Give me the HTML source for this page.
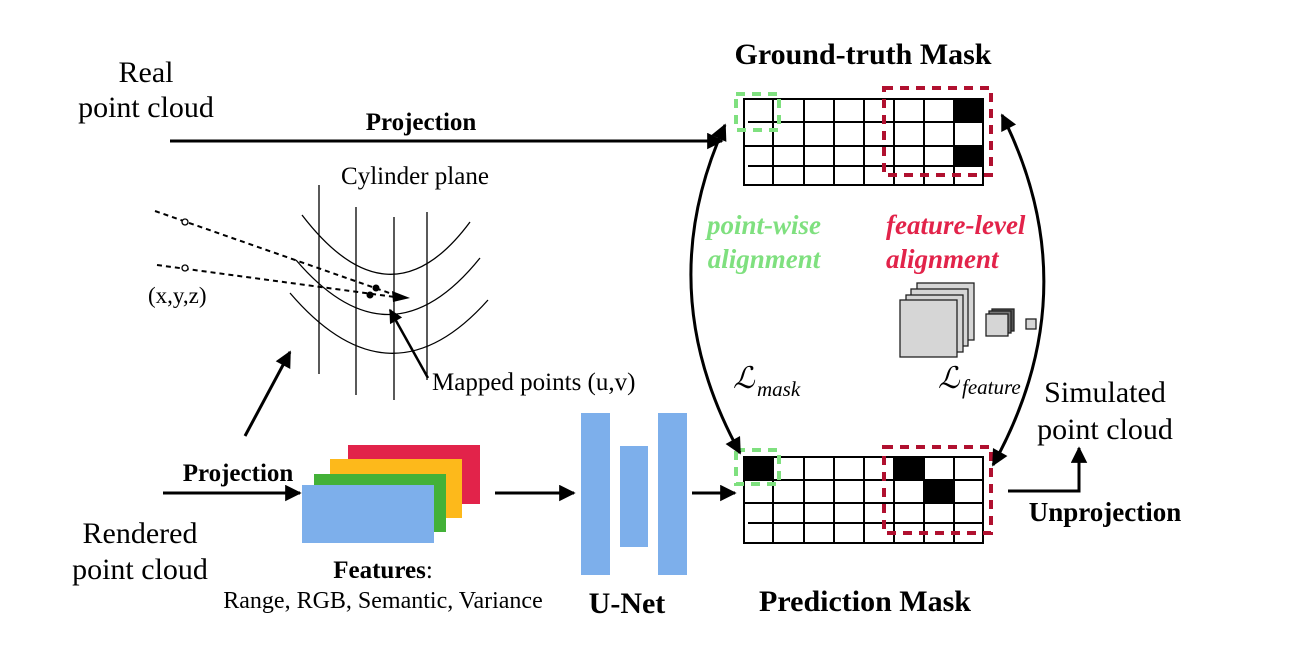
<!DOCTYPE html>
<html><head><meta charset="utf-8"><style>
html,body{margin:0;padding:0;background:#fff}
svg{display:block}
text{font-family:"Liberation Serif",serif}
</style></head><body>
<svg width="1316" height="650" viewBox="0 0 1316 650" xmlns="http://www.w3.org/2000/svg">
<defs>
<marker id="ah" viewBox="0 0 10 10" refX="9" refY="5" markerWidth="6" markerHeight="5.5" orient="auto-start-reverse" markerUnits="strokeWidth"><path d="M0,0 L10,5 L0,10 z" fill="#000"/></marker>
</defs>

<!-- left labels -->
<text x="146" y="82" font-size="30" text-anchor="middle">Real</text>
<text x="146" y="117" font-size="30" text-anchor="middle">point cloud</text>
<text x="421" y="130" font-size="25" font-weight="bold" text-anchor="middle">Projection</text>
<line x1="170" y1="141" x2="722" y2="141" stroke="#000" stroke-width="3" marker-end="url(#ah)"/>

<!-- cylinder -->
<text x="415" y="184" font-size="25" text-anchor="middle">Cylinder plane</text>
<g stroke="#000" stroke-width="1.3" fill="none">
<line x1="319" y1="185" x2="319" y2="374"/>
<line x1="356" y1="207" x2="356" y2="395"/>
<line x1="394" y1="217" x2="394" y2="400"/>
<line x1="427" y1="212" x2="427" y2="380"/>
<path d="M302,215 Q390,330 470,222"/>
<path d="M296,260 Q390,370 480,258"/>
<path d="M290,293 Q390,410 488,300"/>
</g>
<g stroke="#000" stroke-width="2" fill="none" stroke-dasharray="5,4">
<line x1="155" y1="211" x2="398" y2="296"/>
<line x1="157" y1="265" x2="395" y2="297"/>
</g>
<path d="M392,291 L410,298 L393,302 z" fill="#000"/>
<circle cx="185" cy="222" r="3" fill="#fff" stroke="#000" stroke-width="1.3"/>
<circle cx="185" cy="268" r="3" fill="#fff" stroke="#000" stroke-width="1.3"/>
<circle cx="376" cy="288" r="3.5" fill="#000"/>
<circle cx="370" cy="295" r="3.5" fill="#000"/>
<text x="148" y="303" font-size="23">(x,y,z)</text>
<line x1="428" y1="378" x2="390" y2="310" stroke="#000" stroke-width="2.5" marker-end="url(#ah)"/>
<text x="432" y="390" font-size="25">Mapped points (u,v)</text>
<line x1="245" y1="436" x2="290" y2="352" stroke="#000" stroke-width="3" marker-end="url(#ah)"/>

<!-- rendered -->
<text x="238" y="481" font-size="25" font-weight="bold" text-anchor="middle">Projection</text>
<line x1="163" y1="493" x2="300" y2="493" stroke="#000" stroke-width="3" marker-end="url(#ah)"/>
<text x="140" y="543" font-size="30" text-anchor="middle">Rendered</text>
<text x="140" y="579" font-size="30" text-anchor="middle">point cloud</text>

<rect x="348" y="445" width="132" height="59" fill="#e2234a"/>
<rect x="330" y="459" width="132" height="59" fill="#fdb91b"/>
<rect x="314" y="474" width="132" height="58" fill="#43b138"/>
<rect x="302" y="485" width="132" height="58" fill="#7dafeb"/>
<text x="383" y="578" font-size="25" font-weight="bold" text-anchor="middle">Features<tspan font-weight="normal">:</tspan></text>
<text x="383" y="608" font-size="24" text-anchor="middle">Range, RGB, Semantic, Variance</text>

<line x1="495" y1="493" x2="574" y2="493" stroke="#000" stroke-width="3" marker-end="url(#ah)"/>
<rect x="581" y="413" width="29" height="162" fill="#7dafeb"/>
<rect x="620" y="446" width="28" height="101" fill="#7dafeb"/>
<rect x="658" y="413" width="29" height="162" fill="#7dafeb"/>
<text x="627" y="613" font-size="30" font-weight="bold" text-anchor="middle">U-Net</text>
<line x1="692" y1="493" x2="735" y2="493" stroke="#000" stroke-width="3" marker-end="url(#ah)"/>

<!-- GT mask -->
<text x="863" y="64" font-size="30" font-weight="bold" text-anchor="middle">Ground-truth Mask</text>
<rect x="954" y="99" width="29" height="23" fill="#000"/>
<rect x="954" y="146" width="29" height="20" fill="#000"/>
<g stroke="#000" stroke-width="2" fill="none">
<rect x="744" y="99" width="239" height="86"/>
<line x1="748" y1="122" x2="983" y2="122"/>
<line x1="744" y1="146" x2="983" y2="146"/>
<line x1="748" y1="166" x2="983" y2="166"/>
<line x1="773" y1="99" x2="773" y2="185"/><line x1="804" y1="99" x2="804" y2="185"/>
<line x1="834" y1="99" x2="834" y2="185"/><line x1="864" y1="99" x2="864" y2="185"/>
<line x1="894" y1="99" x2="894" y2="185"/><line x1="924" y1="99" x2="924" y2="185"/>
<line x1="954" y1="99" x2="954" y2="185"/>
</g>
<rect x="736" y="94" width="43" height="36" fill="none" stroke="#7fe07f" stroke-width="4" stroke-dasharray="9,7"/>
<rect x="884" y="88" width="107" height="87" fill="none" stroke="#b0102f" stroke-width="4" stroke-dasharray="9,7"/>

<!-- Pred mask -->
<rect x="744" y="457" width="29" height="23" fill="#000"/>
<rect x="894" y="457" width="30" height="23" fill="#000"/>
<rect x="924" y="480" width="30" height="23" fill="#000"/>
<g stroke="#000" stroke-width="2" fill="none">
<rect x="744" y="457" width="239" height="86"/>
<line x1="744" y1="480" x2="983" y2="480"/>
<line x1="744" y1="503" x2="983" y2="503"/>
<line x1="748" y1="523" x2="983" y2="523"/>
<line x1="773" y1="457" x2="773" y2="543"/><line x1="804" y1="457" x2="804" y2="543"/>
<line x1="834" y1="457" x2="834" y2="543"/><line x1="864" y1="457" x2="864" y2="543"/>
<line x1="894" y1="457" x2="894" y2="543"/><line x1="924" y1="457" x2="924" y2="543"/>
<line x1="954" y1="457" x2="954" y2="543"/>
</g>
<rect x="736" y="450" width="43" height="34" fill="none" stroke="#7fe07f" stroke-width="4" stroke-dasharray="9,7"/>
<rect x="884" y="447" width="107" height="86" fill="none" stroke="#b0102f" stroke-width="4" stroke-dasharray="9,7"/>
<text x="865" y="611" font-size="30" font-weight="bold" text-anchor="middle">Prediction Mask</text>

<!-- curved arrows -->
<path d="M725,125 Q650,290 740,453" fill="none" stroke="#000" stroke-width="3" marker-start="url(#ah)" marker-end="url(#ah)"/>
<path d="M1002,115 Q1090,290 993,465" fill="none" stroke="#000" stroke-width="3" marker-start="url(#ah)" marker-end="url(#ah)"/>

<text x="764" y="234" font-size="27" font-weight="bold" font-style="italic" fill="#7fe07f" text-anchor="middle">point-wise</text>
<text x="764" y="268" font-size="27" font-weight="bold" font-style="italic" fill="#7fe07f" text-anchor="middle">alignment</text>
<text x="886" y="234" font-size="27" font-weight="bold" font-style="italic" fill="#e2234a">feature-level</text>
<text x="886" y="268" font-size="27" font-weight="bold" font-style="italic" fill="#e2234a">alignment</text>

<!-- cubes -->
<g fill="#d6d6d6" stroke="#222" stroke-width="1.3">
<rect x="917" y="283" width="57" height="57"/>
<rect x="911" y="289" width="57" height="57"/>
<rect x="906" y="295" width="57" height="57"/>
<rect x="900" y="300" width="57" height="57"/>
<rect x="992" y="309" width="22" height="22" fill="#555"/>
<rect x="989" y="311" width="22" height="22" fill="#777"/>
<rect x="986" y="314" width="22" height="22"/>
<rect x="1026" y="319" width="10" height="10"/>
</g>
<text x="733" y="388" font-size="30" font-style="italic">ℒ</text>
<text x="757" y="396" font-size="21" font-style="italic">mask</text>
<text x="938" y="388" font-size="30" font-style="italic">ℒ</text>
<text x="962" y="394" font-size="21" font-style="italic">feature</text>

<!-- simulated -->
<text x="1105" y="402" font-size="30" text-anchor="middle">Simulated</text>
<text x="1105" y="439" font-size="30" text-anchor="middle">point cloud</text>
<polyline points="1008,491 1079,491 1079,448" fill="none" stroke="#000" stroke-width="3" marker-end="url(#ah)"/>
<text x="1105" y="521" font-size="27" font-weight="bold" text-anchor="middle">Unprojection</text>
</svg>
</body></html>
